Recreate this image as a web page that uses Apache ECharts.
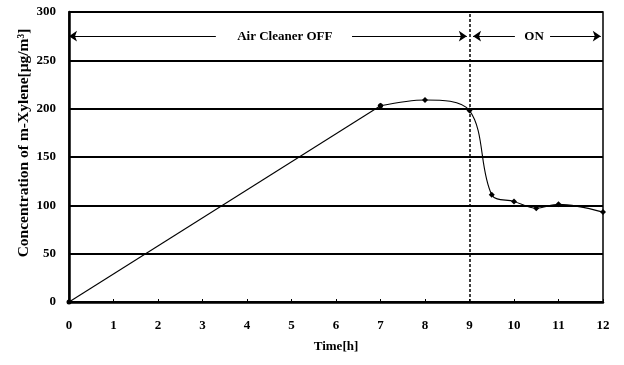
<!DOCTYPE html>
<html><head><meta charset="utf-8">
<script src="https://cdn.jsdelivr.net/npm/echarts@6/dist/echarts.min.js"></script>
<style>html,body{margin:0;padding:0;background:#fff}#c{width:624px;height:365px}</style>
</head><body><div id="c"></div>
<script>
const timeH = [0, 7, 8, 9, 9.5, 10, 10.5, 11, 12];
const conc = [0, 203, 209, 198, 111, 104, 97, 101, 93];
const xTicks = [0,1,2,3,4,5,6,7,8,9,10,11,12];
const yTicks = [0,50,100,150,200,250,300];
const offLabel = 'Air Cleaner OFF';
const onLabel = 'ON';
const yName = 'Concentration of m-Xylene[\u03bcg/m\u00b3]';
const switchTime = 9;
const arrowLevel = 275;

const F = '"Liberation Serif", "Times New Roman", serif';
const chart = echarts.init(document.getElementById('c'));
const arrowStyle = {color:'#000', width:1.2, type:'solid'};
const pts = timeH.map((t,i)=>[t,conc[i]]);
chart.setOption({
  animation:false,
  grid:{left:69, right:21, top:12, bottom:63, show:true, borderColor:'#000', borderWidth:1.5, backgroundColor:'transparent'},
  graphic:[{type:'text', x:24, y:143, rotation:Math.PI/2, style:{text:yName, fontFamily:F, fontWeight:'bold', fontSize:15.5, fill:'#000', align:'center', verticalAlign:'middle'}}],
  xAxis:{type:'value', min:0, max:12, interval:1,
    name:'Time[h]', nameLocation:'middle', nameGap:38,
    nameTextStyle:{fontFamily:F, fontWeight:'bold', fontSize:13, color:'#000'},
    axisLine:{lineStyle:{color:'#000', width:2.5}},
    axisTick:{inside:true, length:3, lineStyle:{color:'#000'}},
    axisLabel:{fontFamily:F, fontWeight:'bold', fontSize:13, color:'#000', margin:17,
      formatter:v=>xTicks.includes(v)?String(v):''},
    splitLine:{show:false}},
  yAxis:{type:'value', min:0, max:300, interval:50,
    axisLine:{lineStyle:{color:'#000', width:2.5}},
    axisTick:{show:false},
    axisLabel:{fontFamily:F, fontWeight:'bold', fontSize:13, color:'#000', margin:13,
      formatter:v=>yTicks.includes(v)?String(v):''},
    splitLine:{lineStyle:{color:'#000', width:2}}},
  series:[{
    type:'line', data:pts.slice(0,2), smooth:false, symbol:'circle', symbolSize:5,
    itemStyle:{color:'#000'}, lineStyle:{color:'#000', width:1.1}
  },{
    type:'line', data:pts.slice(1),
    smooth:0.35, symbol:'diamond', symbolSize:6,
    itemStyle:{color:'#000'}, lineStyle:{color:'#000', width:1.1},
    markLine:{silent:true, animation:false, symbol:['none','none'], label:{show:false},
      data:[
        {xAxis:switchTime, lineStyle:{color:'#000', width:1.5, type:[3,2]}},
        [{coord:[0,arrowLevel], symbol:'arrow', symbolSize:8, lineStyle:arrowStyle},{coord:[3.3,arrowLevel], symbol:'none'}],
        [{coord:[6.36,arrowLevel], symbol:'none', lineStyle:arrowStyle},{coord:[8.94,arrowLevel], symbol:'arrow', symbolSize:8}],
        [{coord:[9.08,arrowLevel], symbol:'arrow', symbolSize:8, lineStyle:arrowStyle},{coord:[10.02,arrowLevel], symbol:'none'}],
        [{coord:[10.81,arrowLevel], symbol:'none', lineStyle:arrowStyle},{coord:[11.95,arrowLevel], symbol:'arrow', symbolSize:8}]
      ]},
    markPoint:{silent:true, symbol:'circle', symbolSize:0,
      label:{show:true, position:'inside', fontFamily:F, fontWeight:'bold', fontSize:13, color:'#000'},
      data:[
        {coord:[4.85,arrowLevel], value:offLabel, label:{formatter:offLabel}},
        {coord:[10.45,arrowLevel], value:onLabel, label:{formatter:onLabel}}
      ]}
  }]
});
</script></body></html>
